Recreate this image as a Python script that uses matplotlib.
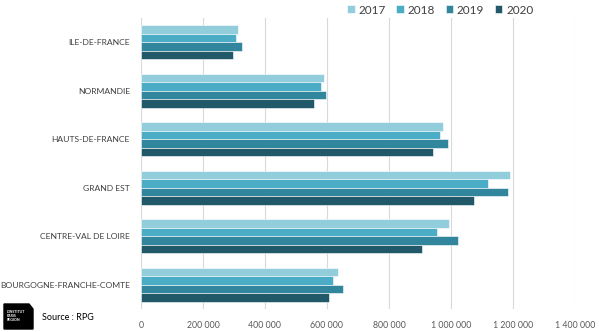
import matplotlib
matplotlib.use("Agg")
import matplotlib.pyplot as plt
import numpy as np
from matplotlib.patches import Polygon

regions = ["ILE-DE-FRANCE", "NORMANDIE", "HAUTS-DE-FRANCE", "GRAND EST",
           "CENTRE-VAL DE LOIRE", "BOURGOGNE-FRANCHE-COMTE"]
years = ["2017", "2018", "2019", "2020"]
v2017 = [313000, 590000, 974000, 1190000, 992000, 636000]
v2018 = [306000, 581000, 965000, 1118000, 954000, 620000]
v2019 = [326000, 597000, 990000, 1183000, 1021000, 650000]
v2020 = [297000, 558000, 942000, 1074000, 906000, 607000]
colors = ["#92CDDC", "#4BACC6", "#31859C", "#215968"]
xticks = [0, 200000, 400000, 600000, 800000, 1000000, 1200000, 1400000]

plt.rcParams['font.family'] = ['Lato', 'DejaVu Sans']

W, H = 599, 332
fig = plt.figure(figsize=(W / 100, H / 100), dpi=100)
ax = fig.add_axes([141 / W, 1 - 309 / H, (575 - 141) / W, (309 - 18) / H])

y = np.arange(len(regions))
h = 0.175
for i, (vals, c) in enumerate(zip([v2017, v2018, v2019, v2020], colors)):
    ax.barh(y - 1.5 * h + i * h, vals, height=h, color=c, edgecolor="white",
            linewidth=0.4, label=years[i], zorder=3)

ax.set_xlim(0, 1400000)
ax.set_ylim(len(regions) - 0.5, -0.5)
ax.set_yticks(y)
ax.set_yticklabels(regions, fontsize=6.1, color="#404040")
ax.set_xticks(xticks)
ax.set_xticklabels([f"{v:,}".replace(",", " ") for v in xticks], fontsize=6.3, color="#595959")
ax.tick_params(axis="y", length=0, pad=8)
ax.tick_params(axis="x", length=0, pad=9)
ax.grid(axis="x", color="#D9D9D9", linewidth=0.8, zorder=0)
for s in ax.spines.values():
    s.set_visible(False)

fig.legend(loc="center right", bbox_to_anchor=(538 / W, 1 - 10 / H), ncol=4, frameon=False,
           fontsize=8.5, handlelength=0.65, handleheight=0.65, handletextpad=0.3,
           columnspacing=0.9, borderaxespad=0.0, labelcolor="#404040")

# logo + source (pixel coords, origin bottom-left)
logo = Polygon([[4, H - 304], [29, H - 304], [33, H - 309], [33, H - 329], [4, H - 329]],
               closed=True, color="black", transform=None)
fig.patches.append(logo)
fig.text(7 / W, 1 - 316 / H, "L'INSTITUT\nPARIS\nREGION", fontsize=2.6,
         color="white", fontweight="bold", va="center", ha="left", linespacing=1.1)
fig.text(42 / W, 1 - 318 / H, "Source : RPG", fontsize=6.5, color="black",
         va="center", ha="left")

fig.savefig("out.png", dpi=100)
